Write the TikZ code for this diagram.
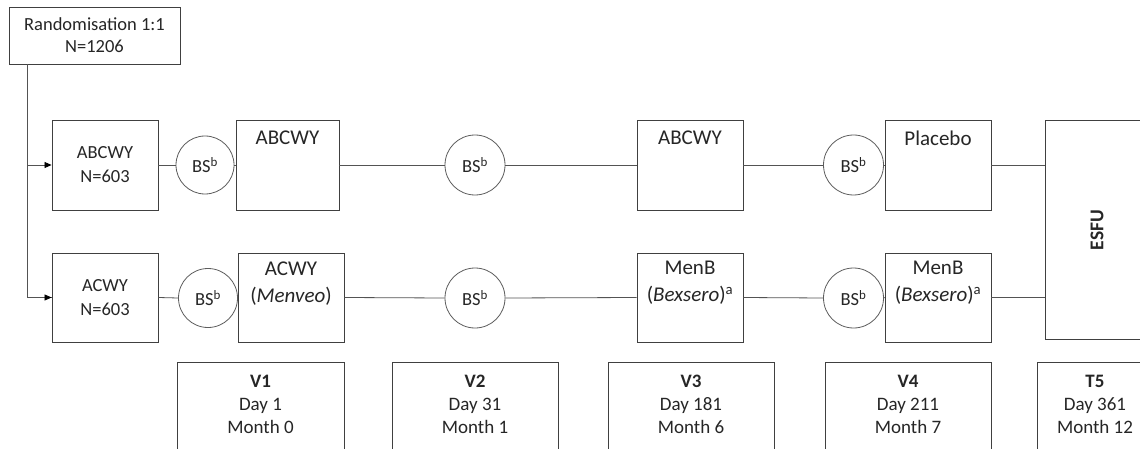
\documentclass[tikz,border=0pt]{standalone}
\usepackage{fontspec}
\setmainfont{Carlito}
\usetikzlibrary{arrows.meta}
\definecolor{ink}{HTML}{262626}
\definecolor{edge}{HTML}{404040}
\begin{document}
\begin{tikzpicture}[x=1pt,y=-1pt,
  every node/.style={text=ink, inner sep=0pt},
  box/.style={draw=edge, line width=0.9pt, fill=white},
  bs/.style={draw=edge!85, line width=0.8pt, circle, fill=white, font=\fontsize{18.5}{21}\selectfont},
  conn/.style={draw=edge!90, line width=0.8pt},
  arr/.style={conn, -{Triangle[length=7pt,width=6pt,fill=black,color=black]}},
  gtext/.style={align=center, font=\fontsize{18.5}{24}\selectfont},
  vtext/.style={align=center, font=\fontsize{21}{27}\selectfont},
  ttext/.style={align=center, font=\fontsize{19}{23}\selectfont}
]
\useasboundingbox (0,0) rectangle (1140,449);
\clip (0,0) rectangle (1140,449);
\fill[white] (0,0) rectangle (1140,449);

% randomisation
\node[box, gtext, minimum width=171pt, minimum height=57pt, font=\fontsize{18.5}{22}\selectfont] (rand) at (94.5,35.5) {Randomisation 1:1\\N=1206};
\coordinate (trunk) at (27,64);

% group boxes
\node[box, gtext, minimum width=106pt, minimum height=90pt] (abcwy) at (105,165) {ABCWY\\N=603};
\node[box, gtext, minimum width=106pt, minimum height=89pt] (acwy) at (105,297.5) {ACWY\\N=603};

% circles
\node[bs, minimum size=58pt] (bs11) at (205,165) {BS\textsuperscript{b}};
\node[bs, minimum size=59pt] (bs12) at (208,298) {BS\textsuperscript{b}};
\node[bs, minimum size=60pt] (bs21) at (475,165) {BS\textsuperscript{b}};
\node[bs, minimum size=60pt] (bs22) at (475,298) {BS\textsuperscript{b}};
\node[bs, minimum size=60pt] (bs31) at (853.5,165) {BS\textsuperscript{b}};
\node[bs, minimum size=60pt] (bs32) at (853.5,298) {BS\textsuperscript{b}};

% vaccine boxes
\node[box, minimum width=103pt, minimum height=90pt] (v11) at (287.5,165) {};
\node[box, minimum width=106pt, minimum height=89pt] (v12) at (291,297.5) {};
\node[box, minimum width=106pt, minimum height=90pt] (v21) at (690,165) {};
\node[box, minimum width=106pt, minimum height=89pt] (v22) at (690,297.5) {};
\node[box, minimum width=106pt, minimum height=90pt] (v31) at (938,165) {};
\node[box, minimum width=106pt, minimum height=89pt] (v32) at (938,297.5) {};

\node[vtext] (l11) at (287.5,138) {ABCWY};
\node[vtext] (l12) at (291,283.5) {ACWY\\(\textit{Menveo})};
\node[vtext] (l21) at (690,138) {ABCWY};
\node[vtext] (l22) at (690,283) {MenB\\(\textit{Bexsero})\textsuperscript{a}};
\node[vtext] (l31) at (938,138) {Placebo};
\node[vtext] (l32) at (938,283) {MenB\\(\textit{Bexsero})\textsuperscript{a}};

% ESFU
\node[box, minimum width=130pt, minimum height=219pt] (esfu) at (1110,229.5) {};
\node[rotate=90, font=\fontsize{19.5}{23}\selectfont\bfseries] (esfut) at (1097,230) {ESFU};

% connectors
\draw[conn] (rand.south -| trunk) |- (acwy.west);
\draw[arr] (trunk |- acwy.west) -- (acwy.west);
\draw[arr] (trunk |- abcwy.west) -- (abcwy.west);

\draw[conn] (abcwy.east) -- (bs11.west);
\draw[conn] (bs11.east) -- (v11.west);
\draw[conn] (v11.east) -- (bs21.west);
\draw[conn] (bs21.east) -- (v21.west);
\draw[conn] (v21.east) -- (bs31.west);
\draw[conn] (bs31.east) -- (v31.west);
\draw[conn] (v31.east) -- (v31.east -| esfu.west);

\draw[conn] (acwy.east) -- (bs12.west);
\draw[conn] (bs12.east) -- (v12.west);
\draw[conn] (v12.east) -- (bs22.west);
\draw[conn] (bs22.east) -- (v22.west);
\draw[conn] (v22.east) -- (bs32.west);
\draw[conn] (bs32.east) -- (v32.west);
\draw[conn] (v32.east) -- (v32.east -| esfu.west);

% timeline boxes
\node[box, minimum width=167pt, minimum height=110pt] (t1) at (260.5,417) {};
\node[box, minimum width=166pt, minimum height=110pt] (t2) at (475,417) {};
\node[box, minimum width=166pt, minimum height=110pt] (t3) at (691,417) {};
\node[box, minimum width=166pt, minimum height=110pt] (t4) at (908,417) {};
\node[box, minimum width=116pt, minimum height=110pt] (t5) at (1095,417) {};

\node[ttext] (tt1) at (260.5,404.5) {\textbf{V1}\\Day 1\\Month 0};
\node[ttext] (tt2) at (475,404.5) {\textbf{V2}\\Day 31\\Month 1};
\node[ttext] (tt3) at (691,404.5) {\textbf{V3}\\Day 181\\Month 6};
\node[ttext] (tt4) at (908,404.5) {\textbf{V4}\\Day 211\\Month 7};
\node[ttext] (tt5) at (1095,404.5) {\textbf{T5}\\Day 361\\Month 12};
\end{tikzpicture}
\end{document}
